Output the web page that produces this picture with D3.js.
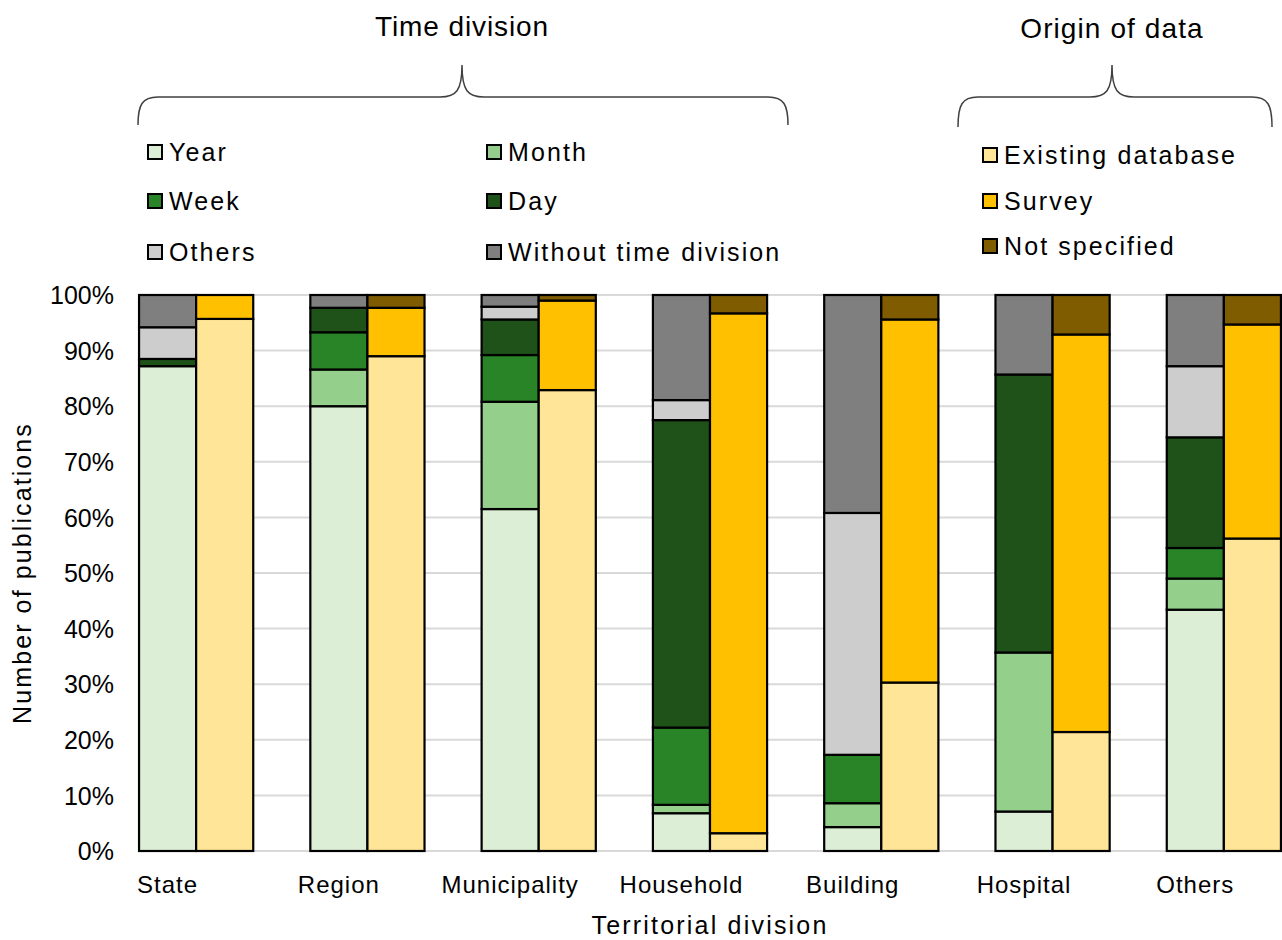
<!DOCTYPE html>
<html>
<head>
<meta charset="utf-8">
<script src="https://cdn.jsdelivr.net/npm/d3@7"></script>
<style>
  html, body { margin: 0; padding: 0; background: #ffffff; }
  svg { display: block; font-family: "Liberation Sans", Arial, sans-serif; }
</style>
</head>
<body>
<svg id="chart" width="1282" height="940"></svg>
<script>
// Territorial divisions on the x axis
const categories = ["State", "Region", "Municipality", "Household", "Building", "Hospital", "Others"];

// Time division shares (% of publications), stacked bottom to top
const timeKeys = ["Year", "Month", "Week", "Day", "Others", "Without time division"];
const year    = [87.2, 80.0, 61.5,  6.8,  4.3,  7.1, 43.4];
const month   = [ 0.0,  6.6, 19.3,  1.5,  4.3, 28.6,  5.6];
const week    = [ 0.0,  6.7,  8.4, 13.9,  8.7,  0.0,  5.5];
const day     = [ 1.3,  4.4,  6.4, 55.3,  0.0, 50.0, 19.9];
const others  = [ 5.7,  0.0,  2.3,  3.6, 43.5,  0.0, 12.8];
const without = [ 5.8,  2.3,  2.1, 18.9, 39.2, 14.3, 12.8];

// Origin of data shares (% of publications), stacked bottom to top
const originKeys = ["Existing database", "Survey", "Not specified"];
const existing     = [95.7, 89.0, 82.9,  3.2, 30.3, 21.4, 56.2];
const survey       = [ 4.3,  8.7, 16.1, 93.5, 65.3, 71.5, 38.5];
const notSpecified = [ 0.0,  2.3,  1.0,  3.3,  4.4,  7.1,  5.3];

const yTicks = [0, 10, 20, 30, 40, 50, 60, 70, 80, 90, 100];

const timeColors = ["#dcefd6", "#94d08b", "#298327", "#1f5219", "#cdcdcd", "#7f7f7f"];
const originColors = ["#ffe597", "#ffc000", "#7f5c00"];

// Build row tables for d3.stack
const timeRows = categories.map((c, i) => ({
  cat: c, "Year": year[i], "Month": month[i], "Week": week[i], "Day": day[i],
  "Others": others[i], "Without time division": without[i]
}));
const originRows = categories.map((c, i) => ({
  cat: c, "Existing database": existing[i], "Survey": survey[i], "Not specified": notSpecified[i]
}));

const svg = d3.select("#chart");
const W = 1282;
const plotLeft = 138, plotTop = 295, plotBottom = 851;

const x = d3.scaleBand().domain(categories).range([110.5, 1309.5]).paddingInner(0).paddingOuter(0);
const sub = d3.scaleBand().domain(["time", "origin"]).range([0, x.bandwidth()]).paddingInner(0).paddingOuter(0.5);
const y = d3.scaleLinear().domain([0, 100]).range([plotBottom, plotTop]);

// Horizontal gridlines
svg.append("g")
  .selectAll("line")
  .data(yTicks)
  .join("line")
  .attr("x1", plotLeft).attr("x2", W)
  .attr("y1", d => y(d)).attr("y2", d => y(d))
  .attr("stroke", "#d9d9d9").attr("stroke-width", 2);

// Y axis tick labels
const yAxis = d3.axisLeft(y).tickValues(yTicks).tickFormat(d => d + "%").tickSize(0).tickPadding(0);
const yg = svg.append("g").attr("transform", "translate(114,0)").call(yAxis);
yg.select(".domain").remove();
yg.selectAll("text")
  .attr("font-family", "Liberation Sans, Arial, sans-serif")
  .attr("font-size", 25).attr("fill", "#000").attr("dy", "0.35em");

// Stacked bars
function drawStack(rows, keys, colors, which) {
  const series = d3.stack().keys(keys)(rows);
  svg.append("g")
    .selectAll("g")
    .data(series)
    .join("g")
    .attr("fill", (d, i) => colors[i])
    .selectAll("rect")
    .data(d => d)
    .join("rect")
    .attr("x", d => x(d.data.cat) + sub(which))
    .attr("width", sub.bandwidth())
    .attr("y", d => y(d[1]))
    .attr("height", d => y(d[0]) - y(d[1]))
    .attr("stroke", "#000").attr("stroke-width", 2.2);
}
drawStack(timeRows, timeKeys, timeColors, "time");
drawStack(originRows, originKeys, originColors, "origin");

// Category labels under the time-division bar
svg.append("g")
  .selectAll("text")
  .data(categories)
  .join("text")
  .attr("x", d => x(d) + sub("time") + sub.bandwidth() / 2)
  .attr("y", 893)
  .attr("text-anchor", "middle")
  .attr("font-size", 24).attr("letter-spacing", 1)
  .text(d => d);

// Axis titles
svg.append("text")
  .attr("x", 710).attr("y", 934)
  .attr("text-anchor", "middle")
  .attr("font-size", 25).attr("letter-spacing", 2.2)
  .text("Territorial division");

svg.append("text")
  .attr("transform", "translate(31,573) rotate(-90)")
  .attr("text-anchor", "middle")
  .attr("font-size", 25).attr("letter-spacing", 2.1)
  .text("Number of publications");

// Curly braces grouping each legend
function brace(x0, x1, xm, yEnd, yLine, yTip) {
  const r = 20;
  return `M${x0},${yEnd} C${x0},${yLine + 8} ${x0 + 4},${yLine} ${x0 + r},${yLine}` +
         ` L${xm - 22},${yLine} C${xm - 6},${yLine} ${xm},${yLine - 6} ${xm},${yTip}` +
         ` C${xm},${yLine - 6} ${xm + 6},${yLine} ${xm + 22},${yLine}` +
         ` L${x1 - r},${yLine} C${x1 - 4},${yLine} ${x1},${yLine + 8} ${x1},${yEnd}`;
}
svg.append("path").attr("d", brace(138, 788, 462, 125, 97, 65))
  .attr("fill", "none").attr("stroke", "#404040").attr("stroke-width", 1.5);
svg.append("path").attr("d", brace(958, 1272, 1112, 127, 97, 65))
  .attr("fill", "none").attr("stroke", "#404040").attr("stroke-width", 1.5);

svg.append("text").attr("x", 462).attr("y", 36).attr("text-anchor", "middle")
  .attr("font-size", 28).attr("letter-spacing", 0.9).text("Time division");
svg.append("text").attr("x", 1112).attr("y", 38).attr("text-anchor", "middle")
  .attr("font-size", 28).attr("letter-spacing", 1.1).text("Origin of data");

// Legends
const timeLegendPos = [
  [148, 152], [487, 152],
  [148, 201], [487, 201],
  [148, 252], [487, 252]
];
const originLegendPos = [[983, 155], [983, 201], [983, 246]];

function legend(keys, colors, pos) {
  const g = svg.append("g");
  keys.forEach((k, i) => {
    const [lx, ly] = pos[i];
    g.append("rect").attr("x", lx).attr("y", ly - 7).attr("width", 14).attr("height", 14)
      .attr("fill", colors[i]).attr("stroke", "#000").attr("stroke-width", 2);
    g.append("text").attr("x", lx + 21).attr("y", ly).attr("dy", "0.35em")
      .attr("font-size", 25).attr("letter-spacing", 2.1).text(k);
  });
}
legend(timeKeys, timeColors, timeLegendPos);
legend(originKeys, originColors, originLegendPos);
</script>
</body>
</html>
